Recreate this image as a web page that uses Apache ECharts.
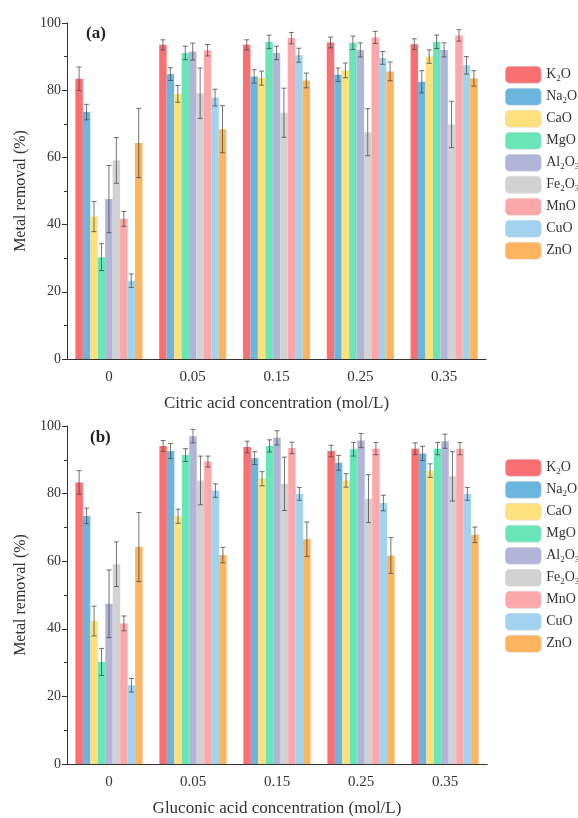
<!DOCTYPE html>
<html>
<head>
<meta charset="UTF-8">
<title>Metal removal</title>
<script src="https://cdn.jsdelivr.net/npm/echarts@6/dist/echarts.min.js"></script>
<style>
body{margin:0;background:#fff;}
#main{width:578px;height:818px;}
</style>
</head>
<body>
<div id="main"></div>
<script type="text/javascript">
var concentrations = ['0', '0.05', '0.15', '0.25', '0.35'];
var oxides = ['K2O', 'Na2O', 'CaO', 'MgO', 'Al2O3', 'Fe2O3', 'MnO', 'CuO', 'ZnO'];
var colors = ['#f96f72', '#6cb5de', '#fde07e', '#6ae5b8', '#b1b6d8', '#d2d2d2', '#fca7a9', '#a1d3ee', '#fdb45e'];

// citric acid, one row per oxide, one value per concentration
var citricMean = [
	[83.4, 93.5, 93.5, 94.2, 93.7],
	[73.5, 84.8, 84.1, 84.6, 82.5],
	[42.4, 78.9, 83.6, 85.9, 90.0],
	[30.3, 91.1, 94.4, 94.1, 94.4],
	[47.6, 91.5, 91.1, 92.0, 92.0],
	[59.1, 79.1, 73.3, 67.5, 69.8],
	[41.7, 91.9, 95.5, 95.7, 96.3],
	[23.3, 77.8, 90.4, 89.6, 87.4],
	[64.3, 68.4, 82.9, 85.6, 83.5]
];
var citricErr = [
	[3.5, 1.5, 1.5, 1.6, 1.6],
	[2.3, 1.9, 2.0, 2.0, 3.3],
	[4.5, 2.5, 2.1, 2.2, 2.0],
	[4.0, 2.0, 2.0, 2.0, 2.0],
	[10.0, 2.5, 2.0, 2.1, 2.1],
	[6.8, 7.5, 7.3, 7.0, 6.9],
	[2.2, 1.7, 1.7, 1.8, 1.7],
	[2.0, 2.5, 2.1, 1.9, 2.6],
	[10.3, 7.0, 2.2, 2.8, 2.3]
];
// gluconic acid
var gluconicMean = [
	[83.3, 94.1, 93.8, 92.6, 93.3],
	[73.4, 92.6, 90.5, 89.1, 91.9],
	[42.3, 73.3, 84.4, 83.9, 86.8],
	[30.2, 91.4, 94.1, 93.1, 93.3],
	[47.4, 97.0, 96.5, 95.7, 95.5],
	[59.1, 83.9, 82.9, 78.5, 85.1],
	[41.6, 89.5, 93.5, 93.3, 93.3],
	[23.3, 80.9, 79.9, 77.2, 79.9],
	[64.2, 61.8, 66.5, 61.7, 67.8]
];
var gluconicErr = [
	[3.5, 1.6, 1.7, 1.7, 1.7],
	[2.3, 2.2, 1.9, 2.2, 2.1],
	[4.4, 2.1, 2.1, 2.0, 2.0],
	[4.0, 1.9, 1.8, 2.0, 1.8],
	[10.0, 2.0, 2.1, 2.1, 2.1],
	[6.6, 7.2, 7.9, 7.1, 7.3],
	[2.2, 1.6, 1.7, 1.8, 1.8],
	[2.0, 2.0, 1.9, 2.3, 1.9],
	[10.2, 2.3, 5.1, 5.3, 2.3]
];

var FONT = 'Liberation Serif';
var GAP = 0.2; // barCategoryGap

function errRender(params, api) {
	var x = api.value(0), v = api.value(1), e = api.value(2), k = api.value(3);
	var band = api.size([1, 0])[0];
	var grp = band * (1 - GAP);
	var bw = grp / oxides.length;
	var cx = api.coord([x, v])[0] - grp / 2 + (k + 0.5) * bw;
	var hi = api.coord([x, v + e])[1];
	var lo = api.coord([x, v - e])[1];
	var st = {stroke: 'rgba(70,70,70,0.75)', lineWidth: 1};
	return {type: 'group', children: [
		{type: 'line', shape: {x1: cx, y1: hi, x2: cx, y2: lo}, style: st},
		{type: 'line', shape: {x1: cx - 2.5, y1: hi, x2: cx + 2.5, y2: hi}, style: st},
		{type: 'line', shape: {x1: cx - 2.5, y1: lo, x2: cx + 2.5, y2: lo}, style: st}
	]};
}

function subName(name) {
	return name.replace(/(\D+)|(\d+)/g, function(m, a, d) {
		return a ? '{n|' + a + '}' : '{s|' + d + '}';
	});
}

function makeSeries(mean, err, xi, yi) {
	var out = [];
	var errData = [];
	for (var i = 0; i < oxides.length; i++) {
		out.push({
			name: oxides[i], type: 'bar', xAxisIndex: xi, yAxisIndex: yi,
			barGap: 0, barCategoryGap: (GAP * 100) + '%',
			itemStyle: {color: colors[i]},
			data: mean[i]
		});
		for (var j = 0; j < concentrations.length; j++) {
			errData.push([j, mean[i][j], err[i][j], i]);
		}
	}
	out.push({
		type: 'custom', xAxisIndex: xi, yAxisIndex: yi, z: 5,
		renderItem: errRender, encode: {x: 0, y: 1}, data: errData
	});
	return out;
}

function xAxes(gi, title) {
	return [{
		type: 'category', gridIndex: gi, data: concentrations,
		name: title, nameLocation: 'middle', nameGap: 36,
		nameTextStyle: {fontFamily: FONT, fontSize: 17, color: '#333'},
		axisLine: {lineStyle: {color: '#333'}},
		axisTick: {alignWithLabel: true, length: 5, lineStyle: {color: '#333'}},
		axisLabel: {fontFamily: FONT, fontSize: 15, color: '#333', margin: 11}
	}, {
		type: 'category', gridIndex: gi, data: concentrations, position: 'bottom', offset: 0,
		axisLine: {show: false},
		axisTick: {length: 3, lineStyle: {color: '#333'}},
		axisLabel: {show: false}
	}];
}

function yAxis(gi) {
	return {
		type: 'value', gridIndex: gi, min: 0, max: 100, interval: 20,
		name: 'Metal removal (%)', nameLocation: 'middle', nameGap: 37,
		nameTextStyle: {fontFamily: FONT, fontSize: 16, color: '#333'},
		axisLine: {show: true, lineStyle: {color: '#333'}},
		axisTick: {show: true, length: 5, lineStyle: {color: '#333'}},
		minorTick: {show: true, splitNumber: 2, length: 3, lineStyle: {color: '#333'}},
		splitLine: {show: false},
		axisLabel: {fontFamily: FONT, fontSize: 14, color: '#333', margin: 6}
	};
}

function legend(top) {
	return {
		orient: 'vertical', left: 500, top: top, data: oxides,
		itemWidth: 36, itemHeight: 17, itemGap: 4.5,
		itemStyle: {borderColor: '#ddd', borderWidth: 0.5},
		formatter: subName,
		textStyle: {
			fontFamily: FONT, fontSize: 14, color: '#333',
			rich: {
				n: {fontFamily: FONT, fontSize: 14, color: '#333'},
				s: {fontFamily: FONT, fontSize: 9, color: '#333', verticalAlign: 'bottom', padding: [7, 0, 0, 0]}
			}
		}
	};
}

var myChart = echarts.init(document.getElementById('main'));
var option = {
	backgroundColor: '#fff',
	animation: false,
	title: [
		{text: '(a)', left: 81, top: 20, textStyle: {fontFamily: FONT, fontSize: 17, fontWeight: 'bold', color: '#222'}},
		{text: '(b)', left: 85, top: 424, textStyle: {fontFamily: FONT, fontSize: 17, fontWeight: 'bold', color: '#222'}}
	],
	legend: [legend(61), legend(454)],
	grid: [
		{left: 67, right: 92, top: 23, height: 336},
		{left: 67, right: 91, top: 426, height: 339}
	],
	xAxis: xAxes(0, 'Citric acid concentration (mol/L)').concat(xAxes(1, 'Gluconic acid concentration (mol/L)')),
	yAxis: [yAxis(0), yAxis(1)],
	series: makeSeries(citricMean, citricErr, 0, 0).concat(makeSeries(gluconicMean, gluconicErr, 2, 1))
};
myChart.setOption(option);
</script>
</body>
</html>
